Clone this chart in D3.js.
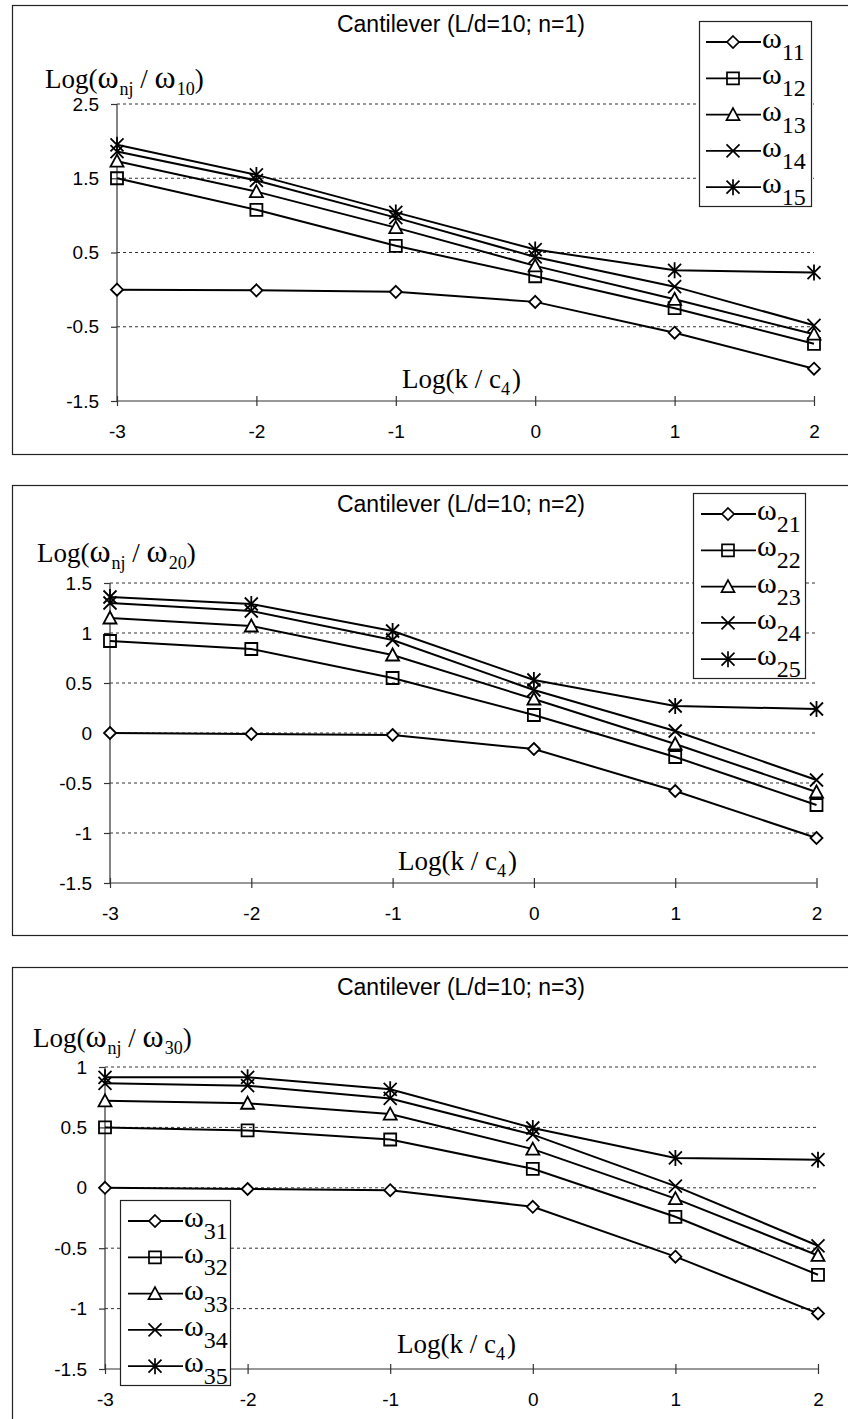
<!DOCTYPE html>
<html>
<head>
<meta charset="utf-8">
<script src="https://cdn.jsdelivr.net/npm/d3@7"></script>
<style>
  body { margin: 0; background: #fff; }
  svg { display: block; }
  .sans { font-family: "Liberation Sans", Arial, sans-serif; }
  .serif { font-family: "Liberation Serif", "Times New Roman", serif; }
</style>
</head>
<body>
<svg id="chart" width="848" height="1419"></svg>
<script>
// x values shared by all three panels: Log(k/c4)
const logK = [-3, -2, -1, 0, 1, 2]

// n = 1
const w11 = [0.00, -0.01, -0.03, -0.165, -0.58, -1.065]
const w12 = [1.50, 1.075, 0.59, 0.18, -0.25, -0.73]
const w13 = [1.73, 1.32, 0.835, 0.32, -0.13, -0.60]
const w14 = [1.86, 1.47, 0.97, 0.44, 0.04, -0.48]
const w15 = [1.95, 1.545, 1.04, 0.54, 0.26, 0.23]

// n = 2
const w21 = [0.00, -0.01, -0.02, -0.16, -0.58, -1.05]
const w22 = [0.92, 0.84, 0.55, 0.18, -0.24, -0.72]
const w23 = [1.15, 1.07, 0.78, 0.34, -0.11, -0.59]
const w24 = [1.30, 1.22, 0.93, 0.43, 0.02, -0.47]
const w25 = [1.36, 1.29, 1.02, 0.53, 0.27, 0.24]

// n = 3
const w31 = [0.00, -0.01, -0.02, -0.157, -0.57, -1.04]
const w32 = [0.50, 0.475, 0.40, 0.157, -0.24, -0.72]
const w33 = [0.72, 0.70, 0.61, 0.32, -0.09, -0.56]
const w34 = [0.865, 0.845, 0.74, 0.44, 0.014, -0.48]
const w35 = [0.915, 0.915, 0.815, 0.495, 0.247, 0.233]

const titles = ['Cantilever (L/d=10; n=1)', 'Cantilever (L/d=10; n=2)', 'Cantilever (L/d=10; n=3)']
const yTicks1 = [-1.5, -0.5, 0.5, 1.5, 2.5]
const yTicks2 = [-1.5, -1, -0.5, 0, 0.5, 1, 1.5]
const yTicks3 = [-1.5, -1, -0.5, 0, 0.5, 1]
const legendSubs1 = ['11', '12', '13', '14', '15']
const legendSubs2 = ['21', '22', '23', '24', '25']
const legendSubs3 = ['31', '32', '33', '34', '35']

// marker shapes, in order of series
const markerPaths = [
    'M0,-6L6,0L0,6L-6,0Z',                        // diamond
    'M-6,-6H6V6H-6Z',                             // square
    'M0,-6.5L6.5,5.5H-6.5Z',                      // triangle
    'M-6.5,-6.5L6.5,6.5M-6.5,6.5L6.5,-6.5',       // x
    'M-6.5,-6.5L6.5,6.5M-6.5,6.5L6.5,-6.5M0,-8V8' // star
]
const markerFill = ['#fff', 'none', '#fff', 'none', 'none']

const panels = [
    { series: [w11, w12, w13, w14, w15], subs: legendSubs1, ticks: yTicks1, grid: [-0.5, 0.5, 1.5, 2.5],
      box: [12, 5, 449], x: [117, 814], y: [401, 104], dom: [-1.5, 2.5], title: titles[0], titleY: 32,
      yt: [45, 88, '10'], xt: [402, 388], legend: [699, 21, 112, 185, 706] },
    { series: [w21, w22, w23, w24, w25], subs: legendSubs2, ticks: yTicks2, grid: [-1, -0.5, 0, 0.5, 1, 1.5],
      box: [12, 485, 450], x: [110, 816.5], y: [883, 583], dom: [-1.5, 1.5], title: titles[1], titleY: 512,
      yt: [37, 562, '20'], xt: [398, 870], legend: [693, 493, 112, 185, 701] },
    { series: [w31, w32, w33, w34, w35], subs: legendSubs3, ticks: yTicks3, grid: [-1, -0.5, 0, 0.5, 1],
      box: [12, 967, 470], x: [105, 818], y: [1369, 1067], dom: [-1.5, 1], title: titles[2], titleY: 995,
      yt: [33, 1047, '30'], xt: [397, 1353], legend: [120, 1200, 110, 185, 128] }
]

const svg = d3.select('#chart')
const fmt = d => String(d)

panels.forEach(p => {
    const g = svg.append('g')
    const x = d3.scaleLinear().domain([-3, 2]).range(p.x)
    const y = d3.scaleLinear().domain(p.dom).range(p.y)

    // outer frame (right side runs off the page)
    g.append('rect')
        .attr('x', p.box[0] + 0.5).attr('y', p.box[1] + 0.5)
        .attr('width', 860).attr('height', p.box[2])
        .attr('fill', 'none').attr('stroke', '#222').attr('stroke-width', 1.2)

    g.append('text').attr('class', 'sans')
        .attr('x', 461).attr('y', p.titleY)
        .attr('text-anchor', 'middle').attr('font-size', 23)
        .text(p.title)

    // dashed gridlines
    g.selectAll('.grid').data(p.grid).enter().append('line')
        .attr('x1', x(-3)).attr('x2', x(2))
        .attr('y1', d => y(d)).attr('y2', d => y(d))
        .attr('stroke', '#333').attr('stroke-width', 1).attr('stroke-dasharray', '3,3')

    const yAxis = g.append('g').attr('transform', `translate(${x(-3)},0)`)
        .call(d3.axisLeft(y).tickValues(p.ticks).tickSize(6).tickPadding(12).tickFormat(fmt))
    yAxis.select('.domain').attr('d', `M0,${y(p.dom[0])}V${y(p.dom[1])}`)

    const xAxis = g.append('g').attr('transform', `translate(0,${y(p.dom[0])})`)
        .call(d3.axisBottom(x).tickValues(logK).tickSize(5).tickFormat(fmt))
    xAxis.select('.domain').attr('d', `M${x(-3)},0H${x(2)}`)
    xAxis.selectAll('.tick line').attr('y1', -5)
    xAxis.selectAll('.tick text').attr('y', 24)

    ;[yAxis, xAxis].forEach(a => {
        a.selectAll('.domain, .tick line').attr('stroke', '#333').attr('stroke-width', 1.2)
        a.selectAll('text').attr('font-family', '"Liberation Sans", Arial, sans-serif')
            .attr('font-size', 19).attr('fill', '#000')
    })

    // series
    const line = d3.line().x((d, i) => x(logK[i])).y(d => y(d))
    p.series.forEach((s, k) => {
        g.append('path').attr('d', line(s))
            .attr('fill', 'none').attr('stroke', '#000').attr('stroke-width', 2)
        g.selectAll(null).data(s).enter().append('path')
            .attr('transform', (d, i) => `translate(${x(logK[i])},${y(d)})`)
            .attr('d', markerPaths[k])
            .attr('fill', markerFill[k]).attr('stroke', '#000').attr('stroke-width', 1.8)
    })

    // axis titles
    const yt = g.append('text').attr('class', 'serif').attr('x', p.yt[0]).attr('y', p.yt[1]).attr('font-size', 27)
    yt.append('tspan').text('Log(')
    yt.append('tspan').attr('font-size', 32).text('\u03c9')
    yt.append('tspan').attr('font-size', 18).attr('dy', 7).attr('dx', 1).text('nj')
    yt.append('tspan').attr('dy', -7).text(' / ')
    yt.append('tspan').attr('font-size', 32).text('\u03c9')
    yt.append('tspan').attr('font-size', 18).attr('dy', 7).attr('dx', 1).text(p.yt[2])
    yt.append('tspan').attr('dy', -7).text(')')

    const xt = g.append('text').attr('class', 'serif').attr('x', p.xt[0]).attr('y', p.xt[1]).attr('font-size', 27)
    xt.append('tspan').text('Log(k / c')
    xt.append('tspan').attr('font-size', 18).attr('dy', 7).text('4')
    xt.append('tspan').attr('dy', -7).attr('dx', 2).text(')')

    // legend
    const [lx, ly, lw, lh, rx] = p.legend
    const leg = g.append('g')
    leg.append('rect').attr('x', lx + 0.5).attr('y', ly + 0.5).attr('width', lw).attr('height', lh)
        .attr('fill', '#fff').attr('stroke', '#222').attr('stroke-width', 1.2)
    p.subs.forEach((sub, k) => {
        const ry = ly + 21 + k * 36.3
        leg.append('line').attr('x1', rx).attr('x2', rx + 55).attr('y1', ry).attr('y2', ry)
            .attr('stroke', '#000').attr('stroke-width', 1.8)
        leg.append('path').attr('transform', `translate(${rx + 27},${ry})`)
            .attr('d', markerPaths[k]).attr('fill', markerFill[k] === 'none' ? 'none' : '#fff')
            .attr('stroke', '#000').attr('stroke-width', 1.7)
        const t = leg.append('text').attr('class', 'serif').attr('x', rx + 56).attr('y', ry + 6).attr('font-size', 30)
        t.append('tspan').text('\u03c9')
        t.append('tspan').attr('font-size', 24).attr('dy', 12).text(sub)
    })
})
</script>
</body>
</html>
